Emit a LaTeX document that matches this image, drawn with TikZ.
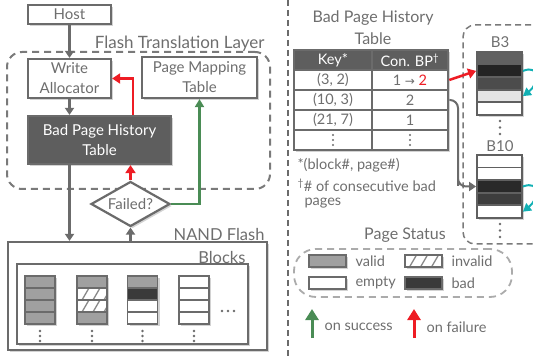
\documentclass[tikz,border=0pt]{standalone}
\usepackage{fontspec}
\setmainfont{Lato}
\newfontfamily\symfont{DejaVu Sans}
\usetikzlibrary{arrows.meta,shapes.geometric,shadows,calc}
\definecolor{boxgray}{HTML}{6B6B6B}
\definecolor{txtgray}{HTML}{6E6E6E}
\definecolor{darkfill}{HTML}{5E5E5E}
\definecolor{validfill}{HTML}{A0A0A0}
\definecolor{badfill}{HTML}{3A3A3A}
\definecolor{okgreen}{HTML}{4A8C55}
\definecolor{failred}{HTML}{EE1C24}
\definecolor{tealc}{HTML}{12B0B4}
\definecolor{dashgray}{HTML}{7A7A7A}
\definecolor{lightdash}{HTML}{ABABAB}
\begin{document}
\begin{tikzpicture}[x=1pt,y=-1pt,
  every node/.style={font=\fontsize{15}{20}\selectfont, text=txtgray},
  shad/.style={drop shadow={opacity=0.35,shadow xshift=2pt,shadow yshift=-2pt}},
  boxn/.style={draw=boxgray, line width=2.2pt, fill=white, align=center, inner sep=0pt, shad},
  darkbox/.style={boxn, fill=darkfill, text=white},
  grayarr/.style={draw=boxgray, line width=2.5pt, -{Triangle[width=9pt,length=7pt]}},
  redarr/.style={draw=failred, line width=2.5pt, -{Triangle[width=10pt,length=8pt]}},
  greenarr/.style={draw=okgreen, line width=2.2pt, -{Triangle[width=9pt,length=8pt]}},
  tealarr/.style={draw=tealc, line width=2pt, -{Triangle[width=9pt,length=8pt]}},
  pagecell/.style={draw=boxgray, line width=1.8pt, minimum width=30pt, minimum height=12pt, inner sep=0pt, shad},
  validpg/.style={pagecell, fill=validfill},
  emptypg/.style={pagecell, fill=white},
  badpg/.style={pagecell, fill=badfill},
  invalidpg/.style={pagecell, fill=white, path picture={\foreach \i in {-6,5,16,27,38} \draw[boxgray!80, line width=1.3pt] ([xshift=\i pt]path picture bounding box.south west) -- ++(7pt,12pt);}},
  dotc/.style={circle, fill=boxgray, inner sep=0pt, minimum size=2.6pt},
  tcell/.style={draw=boxgray, line width=2.5pt, fill=white, minimum height=20pt, inner sep=0pt, font=\fontsize{14.5}{18}\selectfont, shad},
  tcellA/.style={tcell, minimum width=78pt},
  tcellB/.style={tcell, minimum width=76pt},
  bpage/.style={draw=boxgray!90!black, line width=1.8pt, minimum width=45pt, minimum height=12.6pt, inner sep=0pt, shad},
  swatch/.style={minimum width=37pt, minimum height=12pt, line width=2pt},
  legtext/.style={anchor=west, font=\fontsize{14.5}{18}\selectfont},
]
\useasboundingbox (0,0) rectangle (533,358);
\clip (0,0) rectangle (533,358);

% ---------- left: FTL ----------
\node[draw=dashgray, line width=2pt, dash pattern=on 7pt off 5pt, rounded corners=15pt, minimum width=263pt, minimum height=137pt] (ftl) at (138.5,120.5) {};
\node[anchor=east, font=\fontsize{17}{20}\selectfont] (ftllabel) at (268,44) {Flash Translation Layer};

\node[boxn, minimum width=83pt, minimum height=19pt] (host) at (69.5,14.5) {Host};
\node[boxn, minimum width=83pt, minimum height=39pt] (wa) at (69.5,78.5) {Write\\Allocator};
\node[boxn, minimum width=115pt, minimum height=41pt] (pmt) at (199.5,77.5) {Page Mapping\\Table};
\node[darkbox, minimum width=143pt, minimum height=48pt] (bpht) at (99.5,140) {Bad Page History\\Table};
\node[diamond, aspect=2, draw=boxgray, line width=2.2pt, fill=white, minimum width=79pt, minimum height=45pt, inner sep=0pt, shad] (fail) at (130.5,204) {\makebox[0pt]{Failed?}};

% ---------- NAND flash ----------
\node[boxn, minimum width=259pt, minimum height=108pt] (nand) at (137.5,296) {};
\node[anchor=east, font=\fontsize{16.5}{20}\selectfont] (nandlabel) at (268,234) {NAND Flash};
\node[boxn, line width=1.8pt, minimum width=231pt, minimum height=80pt] (blocks) at (132.5,304) {};
\node[anchor=east, font=\fontsize{16.5}{20}\selectfont] (blockslabel) at (249,257) {Blocks};

% column 1
\node[validpg] (c1p1) at (40,282) {};
\node[validpg] (c1p2) at (40,294) {};
\node[validpg] (c1p3) at (40,306) {};
\node[validpg] (c1p4) at (40,318) {};
% column 2
\node[validpg] (c2p1) at (92,282) {};
\node[invalidpg] (c2p2) at (92,294) {};
\node[invalidpg] (c2p3) at (92,306) {};
\node[validpg] (c2p4) at (92,318) {};
% column 3
\node[validpg] (c3p1) at (142.5,282) {};
\node[badpg] (c3p2) at (142.5,294) {};
\node[emptypg] (c3p3) at (142.5,306) {};
\node[emptypg] (c3p4) at (142.5,318) {};
% column 4
\node[emptypg] (c4p1) at (194,282) {};
\node[emptypg] (c4p2) at (194,294) {};
\node[emptypg] (c4p3) at (194,306) {};
\node[emptypg] (c4p4) at (194,318) {};
\foreach \cx/\nm in {40/a,92/b,142.5/c,194/d}{
  \node[dotc] (vd\nm1) at (\cx,331) {};
  \node[dotc] (vd\nm2) at (\cx,336) {};
  \node[dotc] (vd\nm3) at (\cx,341) {};
}
\node[dotc] (hd1) at (222,311) {};
\node[dotc] (hd2) at (228,311) {};
\node[dotc] (hd3) at (234,311) {};

% ---------- left arrows ----------
\draw[grayarr] (host) -- (wa);
\draw[grayarr] (wa) -- (wa.south |- bpht.north);
\draw[grayarr] (wa.south |- bpht.south) -- (wa.south |- nand.north);
\draw[grayarr] (nand.north -| fail.south) -- (fail.south);
\draw[redarr] (fail.north) -- (fail.north |- bpht.south);
\draw[redarr] ($(bpht.north)+(33.5,0)$) |- (wa.east);
\draw[greenarr] (fail.east) -| (pmt.south);

% ---------- separator ----------
\draw[boxgray, line width=1.5pt, dash pattern=on 6pt off 4pt] (288,0) -- (288,358);

% ---------- right: table ----------
\node[align=center, font=\fontsize{16}{22}\selectfont] (bptitle) at (373,28) {Bad Page History\\Table};
\node[tcellA, fill=darkfill, text=white] (kh) at (333,60) {Key*};
\node[tcellB, fill=darkfill, text=white] (ch) at (410,60) {Con. BP\textsuperscript{†}};
\node[tcellA] (r1a) at (333,80) {(3, 2)};
\node[tcellB] (r1b) at (410,80) {1 {\symfont\fontsize{12}{14}\selectfont →} \textcolor{failred}{2}};
\node[tcellA] (r2a) at (333,100) {(10, 3)};
\node[tcellB] (r2b) at (410,100) {2};
\node[tcellA] (r3a) at (333,120) {(21, 7)};
\node[tcellB] (r3b) at (410,120) {1};
\node[tcellA] (r4a) at (333,140) {};
\node[tcellB] (r4b) at (410,140) {};
\foreach \cx/\nm in {333/a,410/b}{
  \node[dotc, minimum size=2.2pt] (td\nm1) at (\cx,135) {};
  \node[dotc, minimum size=2.2pt] (td\nm2) at (\cx,140) {};
  \node[dotc, minimum size=2.2pt] (td\nm3) at (\cx,145) {};
}
\node[anchor=west, font=\fontsize{14.5}{18}\selectfont] (n1) at (294,165) {*(block\#, page\#)};
\node[anchor=west, font=\fontsize{14.5}{18}\selectfont] (n2) at (294,185) {\textsuperscript{†}\# of consecutive bad};
\node[anchor=west, font=\fontsize{14.5}{18}\selectfont] (n3) at (301,203) {pages};

% ---------- right: blocks ----------
\node[draw=dashgray, line width=1.5pt, dash pattern=on 6pt off 4pt, rounded corners=12pt, minimum width=90pt, minimum height=219pt] (bregion) at (508,134.5) {};
\node (b3label) at (500,42) {B3};
\node[bpage, fill=black!62] (b3p1) at (499.5,58.3) {};
\node[bpage, fill=black!86] (b3p2) at (499.5,70.9) {};
\node[bpage, fill=black!70] (b3p3) at (499.5,83.5) {};
\node[bpage, fill=black!10] (b3p4) at (499.5,96.1) {};
\node[bpage, fill=white] (b3p5) at (499.5,108.7) {};
\node[dotc] (b3d1) at (500,121) {};
\node[dotc] (b3d2) at (500,127.5) {};
\node[dotc] (b3d3) at (500,134) {};
\node (b10label) at (500,146) {B10};
\node[bpage, fill=white] (b10p1) at (499.5,161.3) {};
\node[bpage, fill=white] (b10p2) at (499.5,173.9) {};
\node[bpage, fill=black!84] (b10p3) at (499.5,186.5) {};
\node[bpage, fill=black!76] (b10p4) at (499.5,199.1) {};
\node[bpage, fill=white] (b10p5) at (499.5,211.7) {};
\node[dotc] (b10d1) at (500,224) {};
\node[dotc] (b10d2) at (500,230.5) {};
\node[dotc] (b10d3) at (500,237) {};

\draw[redarr] (r1b.east) -- (b3p2.west);
\draw[grayarr, line width=2pt, rounded corners=8pt] (r2b.east) -| (458,178) |- (b10p3.west);
\draw[tealarr] (b3p2.east) .. controls (541,64) and (539,84) .. (b3p4.east);
\draw[tealarr] (b10p3.east) .. controls (541,180) and (539,199) .. (b10p5.east);

% ---------- legend ----------
\node[font=\fontsize{16}{20}\selectfont] (pstitle) at (405,235) {Page Status};
\node[draw=lightdash, line width=1.8pt, dash pattern=on 7pt off 5pt, rounded corners=22pt, minimum width=218pt, minimum height=48pt] (legend) at (403,273) {};
\node[validpg, swatch] (sw1) at (327.5,261) {};
\node[legtext] (lt1) at (352,261) {valid};
\node[invalidpg, swatch] (sw2) at (423,261) {};
\node[legtext] (lt2) at (448,261) {invalid};
\node[emptypg, swatch] (sw3) at (327.5,283) {};
\node[legtext] (lt3) at (352,283) {empty};
\node[badpg, swatch] (sw4) at (423,283) {};
\node[legtext] (lt4) at (448,283) {bad};

% ---------- key arrows ----------
\coordinate (g0) at (312,338);
\coordinate (g1) at (312,309);
\coordinate (f0) at (414,338);
\coordinate (f1) at (414,309);
\draw[draw=okgreen, line width=3pt, -{Triangle[width=13pt,length=11pt]}] (g0) -- (g1);
\draw[draw=failred, line width=3pt, -{Triangle[width=13pt,length=11pt]}] (f0) -- (f1);
\node[legtext] (ks) at (321,327) {on success};
\node[legtext] (kf) at (423,327) {on failure};
\end{tikzpicture}
\end{document}
